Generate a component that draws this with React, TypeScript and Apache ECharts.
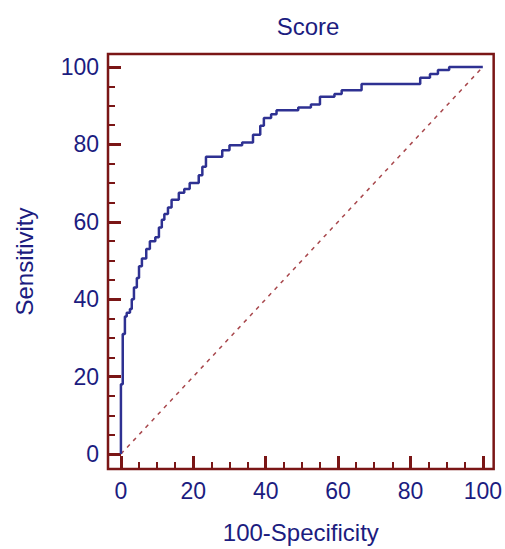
import React, { useEffect, useRef } from "react";
import * as echarts from "echarts";

const fpr = [0, 0.5, 1.1, 1.6, 2.5, 3, 3.6, 4.4, 5, 5.8, 7, 8, 9.5, 10.5, 11.3, 12, 13, 14, 16, 17.5, 19, 21.5, 22.5, 23.5, 28, 30, 33.5, 36.5, 38.5, 39.5, 41.5, 43, 49, 52.5, 55, 59, 61, 66.5, 82.7, 85.4, 87.6, 90.7, 100];
const tpr = [0, 18, 31, 35.5, 36.5, 37.5, 40, 43, 45.5, 48.5, 50.5, 53, 55, 56, 58.5, 60.5, 62, 63.7, 65.7, 67.5, 68.5, 70, 72, 74.2, 76.8, 78.5, 79.8, 80.5, 82.5, 84.8, 86.8, 87.8, 88.8, 89.5, 90.3, 92.3, 93, 94, 95.6, 97.2, 98.2, 99.2, 100];
const diagX = [0, 100];
const diagY = [0, 100];
const majorTicks = [0, 20, 40, 60, 80, 100];
const minorTicks = [5, 10, 15, 25, 30, 35, 45, 50, 55, 65, 70, 75, 85, 90, 95];

const TEXT = "#1C1C80";
const FRAME = "#7A1616";
const FONT = "Liberation Sans";

export default function App() {
  const ref = useRef<HTMLDivElement>(null);
  useEffect(() => {
    if (!ref.current) return;
    const chart = echarts.init(ref.current, undefined, { renderer: "svg" });
    const xMin = -3.57, xMax = 103.0, yMin = -3.87, yMax = 103.35;
    const baseAxis = (min: number, max: number) => ({
      type: "value" as const,
      min,
      max,
      axisLine: { show: false, onZero: false },
      splitLine: { show: false },
    });
    chart.setOption({
      animation: false,
      backgroundColor: "#ffffff",
      title: {
        text: "Score",
        left: 303,
        textAlign: "center",
        top: 9,
        textStyle: { color: TEXT, fontFamily: FONT, fontSize: 24, fontWeight: "normal" },
      },
      grid: {
        left: 108,
        right: 9,
        top: 54,
        bottom: 79,
        show: true,
        borderColor: FRAME,
        borderWidth: 2.5,
        backgroundColor: "transparent",
      },
      xAxis: [
        {
          ...baseAxis(xMin, xMax),
          name: "100-Specificity",
          nameLocation: "middle",
          nameGap: 51,
          nameTextStyle: { color: TEXT, fontFamily: FONT, fontSize: 24 },
          axisTick: { show: true, inside: true, length: 13, customValues: majorTicks, lineStyle: { color: FRAME, width: 3 } },
          axisLabel: { show: true, customValues: majorTicks, margin: 10, color: TEXT, fontFamily: FONT, fontSize: 23 },
        },
        {
          ...baseAxis(xMin, xMax),
          position: "bottom",
          axisTick: { show: true, inside: true, length: 7, customValues: minorTicks, lineStyle: { color: FRAME, width: 2 } },
          axisLabel: { show: false },
        },
      ],
      yAxis: [
        {
          ...baseAxis(yMin, yMax),
          name: "Sensitivity",
          nameLocation: "middle",
          nameGap: 72,
          nameTextStyle: { color: TEXT, fontFamily: FONT, fontSize: 24 },
          axisTick: { show: true, inside: true, length: 13, customValues: majorTicks, lineStyle: { color: FRAME, width: 3 } },
          axisLabel: { show: true, customValues: majorTicks, margin: 9, color: TEXT, fontFamily: FONT, fontSize: 23 },
        },
        {
          ...baseAxis(yMin, yMax),
          position: "left",
          axisTick: { show: true, inside: true, length: 7, customValues: minorTicks, lineStyle: { color: FRAME, width: 2 } },
          axisLabel: { show: false },
        },
      ],
      series: [
        {
          type: "line",
          data: diagX.map((x, i) => [x, diagY[i]]),
          showSymbol: false,
          lineStyle: { color: "#A8474C", width: 1.5, type: [4, 5] },
          silent: true,
        },
        {
          type: "line",
          step: "start",
          data: fpr.map((x, i) => [x, tpr[i]]),
          showSymbol: false,
          lineStyle: { color: "#2E3192", width: 2.5 },
          silent: true,
        },
      ],
    });
    return () => chart.dispose();
  }, []);
  return <div ref={ref} style={{ position: "fixed", left: 0, top: 0, width: 505, height: 549 }} />;
}
